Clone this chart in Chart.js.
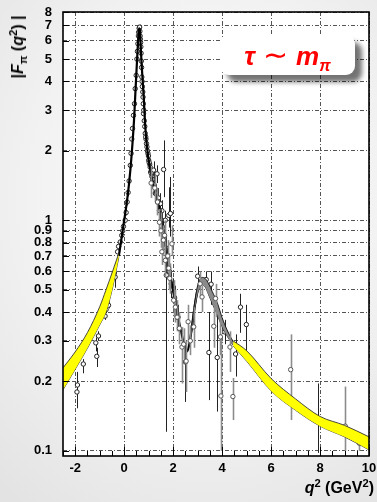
<!DOCTYPE html>
<html>
<head>
<meta charset="utf-8">
<script src="https://cdn.jsdelivr.net/npm/chart.js@4.4.1/dist/chart.umd.min.js"></script>
<style>
  html, body { margin: 0; padding: 0; }
  body {
    width: 377px; height: 502px; position: relative; overflow: hidden;
    background: radial-gradient(ellipse 85% 75% at 55% 40%, #fdfdfd 0%, #f2f2f2 55%, #e3e3e3 100%);
    font-family: "Liberation Sans", Arial, sans-serif;
  }
  #chart { position: absolute; left: 0; top: 0; }
  .ytitle {
    position: absolute; left: 18px; top: 47px;
    transform: translate(-50%, -50%) rotate(-90deg);
    white-space: nowrap; font-weight: bold; font-size: 16px; line-height: 1; color: #000;
  }
  .xtitle {
    position: absolute; right: 3px; top: 480px;
    white-space: nowrap; font-weight: bold; font-size: 16px; line-height: 1; color: #000;
  }
  .ytitle sub, .xtitle sup, .ytitle sup { font-size: 0.7em; line-height: 0; }
  .tag {
    position: absolute; left: 220px; top: 35px; width: 135px; height: 40px;
    background: #fff; border-radius: 9px;
    box-shadow: 7px 7px 5px rgba(0,0,0,0.55);
    color: #ff0000; font-weight: bold; font-size: 26px; line-height: 40px;
    text-align: center; white-space: nowrap;
  }
  .tag sub { font-size: 0.62em; line-height: 0; }
  .tag .tilde { font-style: normal; font-weight: normal; font-size: 30px; margin: 0 8px; font-family: "DejaVu Sans", sans-serif; }
</style>
</head>
<body>
<canvas id="chart" width="377" height="502"></canvas>
<div class="ytitle">|<i>F</i><sub>π</sub> (<i>q</i><sup>2</sup>) |</div>
<div class="xtitle"><i>q</i><sup>2</sup> (GeV<sup>2</sup>)</div>
<div class="tag"><i>τ</i><span class="tilde">∼</span><i>m<sub>π</sub></i></div>
<script>
// Axis ticks
const xTicks = [-2, 0, 2, 4, 6, 8, 10];
const yTicks = [0.1, 0.2, 0.3, 0.4, 0.5, 0.6, 0.7, 0.8, 0.9, 1, 2, 3, 4, 5, 6, 7, 8];

// Spacelike model band (q^2 < 0)
const bandSpaceQ  = [-2.5, -2.0, -1.5, -1.0, -0.75, -0.5, -0.22];
const bandSpaceUp = [0.229, 0.269, 0.326, 0.422, 0.497, 0.59, 0.72];
const bandSpaceLo = [0.184, 0.226, 0.279, 0.352, 0.398, 0.496, 0.69];

// Timelike model band (large q^2)
const bandTimeQ  = [4.45, 5, 6, 7, 8, 9, 10];
const bandTimeUp = [0.30, 0.272, 0.206, 0.168, 0.141, 0.129, 0.115];
const bandTimeLo = [0.285, 0.245, 0.182, 0.150, 0.128, 0.115, 0.101];

// Fit curve through the resonance region
const fitQ = [-0.22, -0.12, 0, 0.1, 0.2, 0.3, 0.4, 0.45, 0.5, 0.54, 0.58, 0.61, 0.635, 0.66, 0.7, 0.75, 0.8, 0.86, 0.96, 1.07,
              1.2, 1.35, 1.5, 1.65, 1.8, 1.92, 2.05, 2.2, 2.35, 2.48, 2.57, 2.66, 2.76, 2.86, 2.98, 3.08, 3.18, 3.3, 3.45, 3.6, 3.8, 4.0, 4.2, 4.45];
const fitF = [0.70, 0.82, 1.0, 1.18, 1.45, 1.9, 2.7, 3.45, 4.4, 5.3, 6.3, 6.8, 6.75, 6.2, 5.0, 4.1, 3.4, 2.55, 1.95, 1.65,
              1.42, 1.22, 1.04, 0.84, 0.66, 0.55, 0.46, 0.38, 0.32, 0.28, 0.27, 0.29, 0.34, 0.41, 0.49, 0.53, 0.545, 0.535, 0.5, 0.46, 0.41, 0.36, 0.325, 0.292];

// Fit uncertainty around the second bump
const fitBandQ  = [2.66, 2.76, 2.86, 2.98, 3.08, 3.18, 3.3, 3.45, 3.6, 3.8, 4.0, 4.2, 4.45];
const fitBandUp = [0.295, 0.35, 0.425, 0.51, 0.55, 0.565, 0.56, 0.53, 0.49, 0.44, 0.378, 0.335, 0.297];
const fitBandLo = [0.285, 0.33, 0.395, 0.47, 0.51, 0.525, 0.515, 0.475, 0.435, 0.39, 0.345, 0.315, 0.287];

// Measurements drawn with dark error bars
const darkQ  = [-1.93, -1.91, -1.67, -1.16, -1.12, -1.05, -0.78, -0.74, -0.71, -0.64, -0.40, -0.37, -0.27, -0.23, -0.16, -0.10, -0.06, -0.03,
                0.04, 0.08, 0.12, 0.16, 0.2, 0.25, 0.28, 0.31, 0.34, 0.38, 0.42, 0.45, 0.49, 0.52, 0.54, 0.56, 0.58, 0.59, 0.61, 0.63, 0.64, 0.66,
                0.68, 0.70, 0.72, 0.74, 0.77, 0.79, 0.82, 0.86, 0.89, 0.93, 0.97, 1.0, 1.04, 1.08, 1.13, 1.2, 1.27, 1.34, 1.4, 1.48, 1.54, 1.61,
                1.68, 1.72, 1.82, 1.89, 2.5, 3.0, 3.35, 3.46, 3.55, 3.8, 4.11, 4.55, 4.75, 4.99, 7.9,
                0.65, 0.67, 0.69, 0.71, 0.73, 0.76, 0.78, 0.80, 0.84, 0.88, 0.91, 0.95, 0.99, 1.02, 1.06, 1.1, 1.16, 1.23, 1.3, 1.37,
                1.44, 1.51, 1.58, 1.64, 1.7, 1.76, 1.85, 1.92, 1.98, 2.06, 2.12, 2.2];
const darkF  = [0.18, 0.193, 0.238, 0.294, 0.257, 0.315, 0.384, 0.41, 0.443, 0.428, 0.59, 0.567, 0.73, 0.77, 0.805, 0.86, 0.9, 0.94,
                1.0, 1.08, 1.2, 1.32, 1.48, 1.73, 1.95, 2.25, 2.5, 2.85, 3.2, 3.72, 4.25, 5.0, 5.4, 5.83, 6.3, 6.54, 6.8, 6.88, 6.6, 6.1,
                5.65, 4.9, 4.18, 3.8, 3.42, 2.9, 2.7, 2.38, 2.25, 2.08, 1.95, 1.82, 1.75, 1.62, 1.55, 1.65, 1.31, 1.59, 1.25, 1.18, 1.10, 1.66,
                1.0, 0.578, 1.05, 1.07, 0.243, 0.572, 0.553, 0.267, 0.528, 0.254, 0.328, 0.263, 0.42, 0.353, 0.134,
                6.3, 5.9, 5.3, 4.6, 4.0, 3.6, 3.2, 3.0, 2.55, 2.3, 2.15, 2.0, 1.9, 1.78, 1.7, 1.6, 1.5, 1.42, 1.3, 1.2,
                1.1, 1.0, 0.92, 0.85, 0.76, 0.68, 0.6, 0.53, 0.5, 0.46, 0.42, 0.38];
const darkLo = [0.165, 0.153, 0.217, 0.27, 0.231, 0.30, 0.37, 0.395, 0.43, 0.415, 0.57, 0.51, 0.71, 0.75, 0.79, 0.84, 0.88, 0.92,
                0.97, 1.05, 1.16, 1.27, 1.43, 1.66, 1.86, 2.12, 2.4, 2.75, 3.1, 3.6, 4.1, 4.85, 5.25, 5.65, 6.1, 6.35, 6.6, 6.7, 6.4, 5.9,
                5.45, 4.75, 4.05, 3.68, 3.3, 2.8, 2.6, 2.3, 2.15, 2.0, 1.85, 1.72, 1.65, 1.5, 1.42, 1.5, 1.2, 1.45, 1.12, 1.05, 0.98, 1.26,
                0.9, 0.121, 0.93, 0.85, 0.163, 0.5, 0.5, 0.166, 0.43, 0.148, 0.29, 0.21, 0.325, 0.26, 0.098,
                6.1, 5.7, 5.1, 4.45, 3.85, 3.45, 3.05, 2.88, 2.45, 2.2, 2.05, 1.9, 1.8, 1.68, 1.6, 1.5, 1.4, 1.3, 1.18, 1.08,
                0.98, 0.9, 0.82, 0.75, 0.66, 0.6, 0.53, 0.46, 0.44, 0.4, 0.37, 0.33];
const darkHi = [0.195, 0.22, 0.25, 0.31, 0.28, 0.33, 0.40, 0.425, 0.455, 0.44, 0.61, 0.65, 0.75, 0.79, 0.82, 0.88, 0.92, 0.96,
                1.03, 1.11, 1.24, 1.37, 1.53, 1.8, 2.04, 2.38, 2.6, 2.95, 3.3, 3.84, 4.4, 5.15, 5.55, 6.0, 6.5, 6.75, 7.0, 7.05, 6.8, 6.3,
                5.85, 5.05, 4.3, 3.92, 3.54, 3.0, 2.8, 2.46, 2.35, 2.16, 2.05, 1.92, 1.85, 1.75, 1.68, 1.8, 1.42, 1.73, 1.38, 1.31, 1.22, 2.22,
                1.1, 0.79, 1.39, 1.54, 0.29, 0.63, 0.6, 0.4, 0.6, 0.41, 0.37, 0.32, 0.48, 0.43, 0.196,
                6.5, 6.1, 5.5, 4.75, 4.15, 3.75, 3.35, 3.12, 2.65, 2.4, 2.25, 2.1, 2.0, 1.88, 1.8, 1.7, 1.6, 1.54, 1.42, 1.32,
                1.22, 1.1, 1.02, 0.95, 0.86, 0.76, 0.68, 0.6, 0.56, 0.52, 0.47, 0.43];

// Measurements drawn with grey error bars
const greyQ  = [1.1, 1.25, 1.36, 1.44, 1.5, 1.54, 1.6, 1.65, 1.68, 1.78, 1.82, 1.86, 1.95, 2.02, 2.09, 2.16, 2.25, 2.36, 2.43, 2.53,
                2.61, 2.7, 2.84, 3.1, 3.18, 3.66, 3.73, 3.93, 3.95, 4.32, 4.44, 6.8, 9.03, 9.6];
const greyF  = [1.45, 1.38, 1.2, 0.98, 0.9, 0.73, 0.82, 0.86, 0.67, 0.7, 0.62, 0.56, 0.79, 0.45, 0.42, 0.38, 0.34, 0.282, 0.29, 0.245,
                0.363, 0.3, 0.345, 0.53, 0.465, 0.347, 0.458, 0.312, 0.173, 0.282, 0.172, 0.225, 0.128, 0.108];
const greyLo = [1.25, 1.2, 1.05, 0.85, 0.76, 0.64, 0.7, 0.74, 0.57, 0.6, 0.5, 0.48, 0.7, 0.38, 0.36, 0.33, 0.29, 0.196, 0.25, 0.18,
                0.3, 0.26, 0.28, 0.47, 0.4, 0.28, 0.38, 0.26, 0.1, 0.22, 0.136, 0.136, 0.1, 0.1];
const greyHi = [1.7, 1.58, 1.38, 1.12, 1.08, 0.85, 0.95, 1.0, 0.8, 0.82, 0.72, 0.65, 0.95, 0.55, 0.5, 0.45, 0.4, 0.344, 0.34, 0.3,
                0.43, 0.35, 0.42, 0.6, 0.52, 0.42, 0.53, 0.37, 0.32, 0.33, 0.207, 0.32, 0.19, 0.12];

const pts = (xs, ys) => xs.map((x, i) => ({ x: x, y: ys[i] }));

const bandLine = (data, fill, bg, border) => ({
  data: data, fill: fill, backgroundColor: bg, borderColor: border, borderWidth: 0.9,
  pointRadius: 0, cubicInterpolationMode: 'monotone'
});

// White plot area, error bars, frame and inner tick marks
const plotDecor = {
  id: 'plotDecor',
  beforeDraw(chart) {
    const { ctx, chartArea: a } = chart;
    ctx.save();
    ctx.fillStyle = '#ffffff';
    ctx.fillRect(a.left, a.top, a.right - a.left, a.bottom - a.top);
    ctx.restore();
  },
  beforeDatasetDraw(chart, args) {
    const ds = chart.data.datasets[args.index];
    if (!ds.errLo) return;
    const { ctx, chartArea: a } = chart;
    const xs = chart.scales.x, ys = chart.scales.y;
    ctx.save();
    ctx.beginPath();
    ctx.rect(a.left, a.top, a.right - a.left, a.bottom - a.top);
    ctx.clip();
    ctx.strokeStyle = ds.errColor;
    ctx.lineWidth = ds.errWidth;
    ds.data.forEach((p, i) => {
      const px = Math.round(xs.getPixelForValue(p.x)) + 0.5;
      ctx.beginPath();
      ctx.moveTo(px, ys.getPixelForValue(ds.errLo[i]));
      ctx.lineTo(px, ys.getPixelForValue(ds.errHi[i]));
      ctx.stroke();
    });
    ctx.restore();
  },
  afterDraw(chart) {
    const { ctx, chartArea: a } = chart;
    const xs = chart.scales.x, ys = chart.scales.y;
    ctx.save();
    ctx.strokeStyle = '#000';
    ctx.lineWidth = 1;
    // x ticks: majors on labelled values, minors every half unit
    for (let v = xs.min; v <= xs.max + 1e-9; v += 0.5) {
      const px = Math.round(xs.getPixelForValue(v)) + 0.5;
      const major = xTicks.includes(Math.round(v * 100) / 100);
      ctx.beginPath();
      ctx.moveTo(px, a.bottom);
      ctx.lineTo(px, a.bottom - (major ? 9 : 5));
      ctx.stroke();
    }
    // y ticks
    yTicks.forEach(v => {
      const py = Math.round(ys.getPixelForValue(v)) + 0.5;
      ctx.beginPath();
      ctx.moveTo(a.left, py);
      ctx.lineTo(a.left + 6, py);
      ctx.stroke();
    });
    ctx.lineWidth = 1.6;
    ctx.strokeRect(a.left, a.top, a.right - a.left, a.bottom - a.top);
    ctx.restore();
  }
};

new Chart(document.getElementById('chart'), {
  type: 'line',
  data: {
    datasets: [
      bandLine(pts(bandSpaceQ, bandSpaceUp), '+1', '#ffff00', '#333'),
      bandLine(pts(bandSpaceQ, bandSpaceLo), false, '#ffff00', '#333'),
      bandLine(pts(bandTimeQ, bandTimeUp), '+1', '#ffff00', '#333'),
      bandLine(pts(bandTimeQ, bandTimeLo), false, '#ffff00', '#333'),
      {
        data: pts(greyQ, greyF), showLine: false,
        errLo: greyLo, errHi: greyHi, errColor: '#8c8c8c', errWidth: 1.6,
        pointRadius: 2.2, pointBackgroundColor: '#fff', pointBorderColor: '#555', pointBorderWidth: 1
      },
      bandLine(pts(fitBandQ, fitBandUp), '+1', '#8a8a8a', '#111'),
      bandLine(pts(fitBandQ, fitBandLo), false, '#8a8a8a', '#111'),
      {
        data: pts(fitQ, fitF), fill: false, borderColor: '#000', borderWidth: 2.2,
        pointRadius: 0, cubicInterpolationMode: 'monotone'
      },
      {
        data: pts(darkQ, darkF), showLine: false,
        errLo: darkLo, errHi: darkHi, errColor: '#222', errWidth: 1,
        pointRadius: 2.2, pointBackgroundColor: '#fff', pointBorderColor: '#222', pointBorderWidth: 1
      }
    ]
  },
  options: {
    responsive: false,
    devicePixelRatio: 1,
    animation: false,
    events: [],
    layout: { padding: { top: 12, right: 8, left: 0, bottom: 0 } },
    plugins: { legend: { display: false }, tooltip: { enabled: false } },
    scales: {
      x: {
        type: 'linear', min: -2.5, max: 10,
        afterBuildTicks: s => { s.ticks = xTicks.map(v => ({ value: v })); },
        afterFit: s => { s.height = 46; s.paddingLeft = 0; s.paddingRight = 0; },
        grid: { color: '#555', lineWidth: 1, drawTicks: false },
        border: { display: false, dash: [4, 2, 1, 2] },
        ticks: {
          padding: 5, color: '#000', autoSkip: false, maxRotation: 0,
          font: { family: '"Liberation Sans", Arial, sans-serif', size: 13, weight: 'bold' },
          callback: v => String(v)
        }
      },
      y: {
        type: 'logarithmic', min: 0.095, max: 8,
        afterBuildTicks: s => { s.ticks = yTicks.map(v => ({ value: v })); },
        afterFit: s => { s.width = 63; s.paddingTop = 0; s.paddingBottom = 0; },
        grid: { color: '#555', lineWidth: 1, drawTicks: false },
        border: { display: false, dash: [4, 2, 1, 2] },
        ticks: {
          padding: 11, color: '#000', autoSkip: false,
          font: { family: '"Liberation Sans", Arial, sans-serif', size: 13, weight: 'bold' },
          callback: v => String(v)
        }
      }
    }
  },
  plugins: [plotDecor]
});
</script>
</body>
</html>
